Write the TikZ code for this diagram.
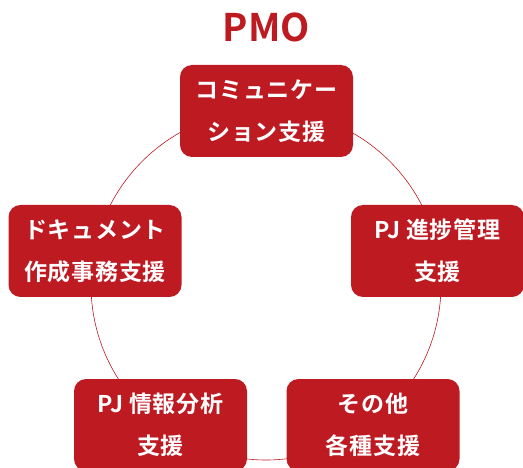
\documentclass[tikz,border=0pt]{standalone}
\usepackage{fontspec}
\setmainfont{Noto Sans CJK JP}[BoldFont={* Bold}]
\newfontfamily\boxfont{Noto Sans CJK JP}[BoldFont={* Bold},LetterSpace=3]
\usepackage{tikz}
\usetikzlibrary{positioning}
\definecolor{pmored}{HTML}{BE1A22}

\begin{document}
\begin{tikzpicture}[x=1pt,y=-1pt]
	\tikzset{
		task/.style={rectangle,rounded corners=12pt,fill=pmored,text=white,
			minimum width=173pt,minimum height=92pt,align=center,inner sep=0pt,
			font=\boxfont\bfseries\fontsize{23}{42}\selectfont},
		ring/.style={pmored,line width=0.6pt}
	}
	\useasboundingbox (0,0) rectangle (523,468);
	\coordinate (c) at (266,285);
	\draw [ring] (c) circle (175pt);
	\node [text=pmored,font=\bfseries\fontsize{38}{40}\selectfont] (pmo) at (266.5,27.5) {PMO};
	\node [task] (com) at (266.5,111) {コミュニケー\\ション支援};
	\node [task] (doc) at (95,251) {ドキュメント\\作成事務支援};
	\node [task] (prg) at (437.5,251) {PJ 進捗管理\\支援};
	\node [task] (ana) at (160.5,425) {PJ 情報分析\\支援};
	\node [task] (etc) at (373,425) {その他\\各種支援};
\end{tikzpicture}
\end{document}
